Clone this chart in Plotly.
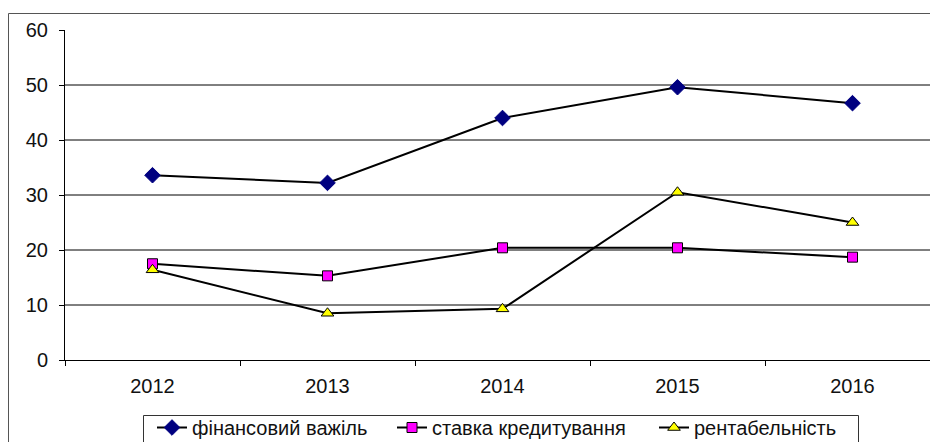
import plotly.graph_objects as go

years = ["2012", "2013", "2014", "2015", "2016"]
fin_leverage = [33.6, 32.2, 44.0, 49.6, 46.7]
credit_rate = [17.5, 15.3, 20.4, 20.4, 18.7]
profitability = [16.4, 8.5, 9.3, 30.5, 25.0]
y_ticks = [0, 10, 20, 30, 40, 50, 60]
names = ["фінансовий важіль", "ставка кредитування", "рентабельність"]

# page has an 8px body margin: figure coordinates = page coordinates - 8
OFF = 8
W, H = 938, 442
L, R, T, B = 65 - OFF, 0, 30 - OFF, H - (360 - OFF)
pw = W - L - R
ph = H - T - B
cat_px = 175.0  # width of one category slot in pixels


def px_x(page_x):
    return (page_x - OFF - L) / pw


def px_y(page_y):
    return 1 - (page_y - OFF - T) / ph


fig = go.Figure()
fig.add_trace(go.Scatter(
    x=years, y=fin_leverage, name=names[0], mode="lines+markers",
    line=dict(color="black", width=2), legend="legend",
    marker=dict(symbol="diamond", size=12, color="#000080",
                line=dict(color="#000080", width=1))))
fig.add_trace(go.Scatter(
    x=years, y=credit_rate, name=names[1], mode="lines+markers",
    line=dict(color="black", width=2), legend="legend2",
    marker=dict(symbol="square", size=10, color="#FF00FF",
                line=dict(color="black", width=1))))
fig.add_trace(go.Scatter(
    x=years, y=profitability, name=names[2], mode="lines+markers",
    line=dict(color="black", width=2), legend="legend3",
    marker=dict(symbol="triangle-up", size=11, color="#FFFF00",
                line=dict(color="black", width=1))))

shapes = []
for v in y_ticks[1:-1]:
    shapes.append(dict(type="line", xref="paper", yref="y", x0=0, x1=1,
                       y0=v, y1=v, line=dict(color="black", width=1),
                       layer="below"))
# outer chart frame (left and top edges)
fx = px_x(8.5)
fy = px_y(13.5)
shapes.append(dict(type="line", xref="paper", yref="paper", x0=fx, x1=fx,
                   y0=fy, y1=-1, line=dict(color="#555555", width=1)))
shapes.append(dict(type="line", xref="paper", yref="paper", x0=fx, x1=1.2,
                   y0=fy, y1=fy, line=dict(color="#555555", width=1)))
# legend frame
shapes.append(dict(type="rect", xref="paper", yref="paper",
                   x0=px_x(143.5), x1=px_x(858.5), y0=px_y(415.5), y1=px_y(470),
                   line=dict(color="#333333", width=1), fillcolor="rgba(0,0,0,0)"))

font = dict(family="Liberation Sans, Arial, sans-serif", size=20, color="#111111")


def leg(page_x):
    return dict(orientation="h", x=px_x(page_x), xanchor="left",
                y=px_y(408), yanchor="top", bgcolor="rgba(0,0,0,0)",
                borderwidth=0, font=font, itemwidth=30)


fig.update_layout(
    width=W, height=H,
    margin=dict(l=L, r=R, t=T, b=B, pad=0, autoexpand=False),
    plot_bgcolor="white", paper_bgcolor="white",
    font=font,
    showlegend=True,
    legend=leg(152), legend2=leg(392), legend3=leg(654),
    shapes=shapes,
    xaxis=dict(type="category", tickson="boundaries", ticks="outside",
               ticklen=5, tickcolor="black", showline=True, linecolor="black",
               linewidth=1, showgrid=False, zeroline=False,
               range=[-0.5, -0.5 + pw / cat_px], tickfont=font,
               ticklabelstandoff=8),
    yaxis=dict(range=[0, 60], tickvals=y_ticks, ticks="outside", ticklen=5,
               tickcolor="black", showline=True, linecolor="black",
               linewidth=1, showgrid=False, zeroline=False, tickfont=font,
               ticklabelstandoff=7),
)

fig.write_html("out.html")
